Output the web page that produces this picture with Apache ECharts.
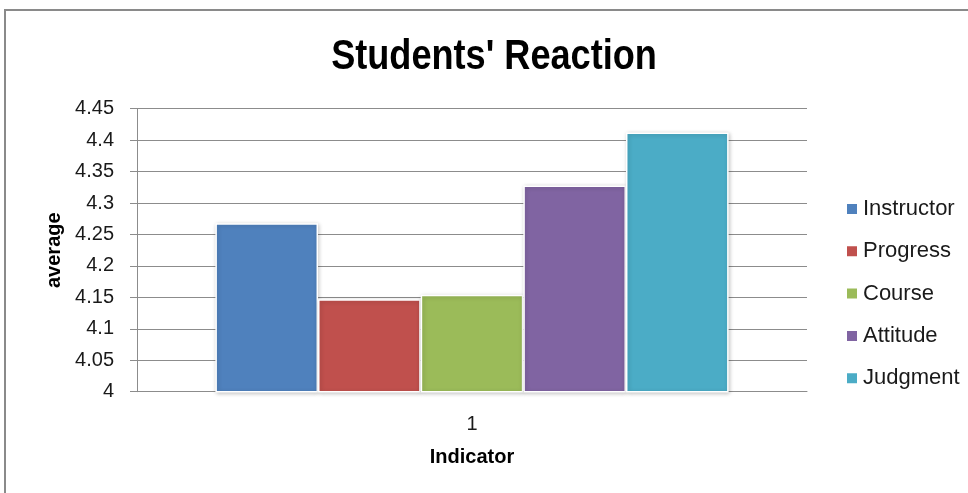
<!DOCTYPE html>
<html>
<head>
<meta charset="utf-8">
<style>
  html, body { margin: 0; padding: 0; background: #fff; }
  #chart { width: 968px; height: 493px; }
</style>
<script src="https://cdn.jsdelivr.net/npm/echarts@6/dist/echarts.min.js"></script>
</head>
<body>
<div id="chart"></div>
<script>
// Average reaction score per indicator
const categories = ['1'];
const seriesNames = ['Instructor', 'Progress', 'Course', 'Attitude', 'Judgment'];
const instructor = [4.268];
const progress = [4.147];
const course = [4.154];
const attitude = [4.328];
const judgment = [4.412];
const seriesColors = ['#4F81BD', '#C0504D', '#9BBB59', '#8064A2', '#4BACC6'];
const chartTitle = "Students' Reaction";

const seriesValues = [instructor, progress, course, attitude, judgment];

const chart = echarts.init(document.getElementById('chart'), null, { renderer: 'canvas' });

const textFont = 'Liberation Sans, Arial, sans-serif';

chart.setOption({
  backgroundColor: '#fff',
  animation: false,
  graphic: [
    {
      // outer chart frame (runs past the right and bottom edges)
      type: 'rect',
      shape: { x: 5, y: 10, width: 1000, height: 520 },
      style: { fill: 'none', stroke: '#8a8a8a', lineWidth: 2 },
      silent: true,
      z: 100
    },
    {
      // condensed bold title
      type: 'text',
      x: 494,
      y: 36,
      scaleX: 0.86,
      style: {
        text: chartTitle,
        font: 'bold 42px Liberation Sans, Arial, sans-serif',
        fill: '#000',
        textAlign: 'center',
        textVerticalAlign: 'top'
      },
      silent: true
    }
  ],
  legend: {
    orient: 'vertical',
    left: 845,
    top: 198,
    padding: 0,
    itemWidth: 12,
    itemHeight: 12,
    itemGap: 20.3,
    icon: 'rect',
    textStyle: {
      fontFamily: textFont,
      fontSize: 22,
      lineHeight: 22,
      color: '#1a1a1a'
    },
    data: seriesNames
  },
  grid: {
    left: 137,
    right: 161,
    top: 108.7,
    bottom: 101.3,
    containLabel: false
  },
  xAxis: {
    type: 'category',
    data: categories,
    name: 'Indicator',
    nameLocation: 'middle',
    nameGap: 56,
    nameTextStyle: {
      fontFamily: textFont,
      fontWeight: 'bold',
      fontSize: 20,
      color: '#000'
    },
    axisLine: { lineStyle: { color: '#8c8c8c', width: 1 } },
    axisTick: { show: false },
    axisLabel: {
      margin: 23,
      fontFamily: textFont,
      fontSize: 20,
      color: '#1a1a1a'
    }
  },
  yAxis: {
    type: 'value',
    min: 4,
    max: 4.45,
    interval: 0.05,
    name: 'average',
    nameLocation: 'middle',
    nameGap: 70,
    nameRotate: 90,
    nameTextStyle: {
      fontFamily: textFont,
      fontWeight: 'bold',
      fontSize: 20,
      color: '#000'
    },
    axisLine: { show: true, lineStyle: { color: '#8c8c8c', width: 1 } },
    axisTick: { show: true, inside: false, length: 7, lineStyle: { color: '#8c8c8c' } },
    splitLine: { show: true, lineStyle: { color: '#8c8c8c', width: 1 } },
    axisLabel: {
      margin: 23,
      fontFamily: textFont,
      fontSize: 20,
      color: '#1a1a1a',
      formatter: v => String(+v.toFixed(2))
    }
  },
  series: seriesNames.map((name, i) => ({
    name: name,
    type: 'bar',
    data: seriesValues[i],
    barGap: '0%',
    barCategoryGap: '23.4%',
    itemStyle: {
      color: seriesColors[i],
      borderColor: '#fff',
      borderWidth: 1.5,
      shadowColor: 'rgba(0,0,0,0.22)',
      shadowBlur: 4,
      shadowOffsetX: 1,
      shadowOffsetY: 1
    }
  }))
});
</script>
</body>
</html>
